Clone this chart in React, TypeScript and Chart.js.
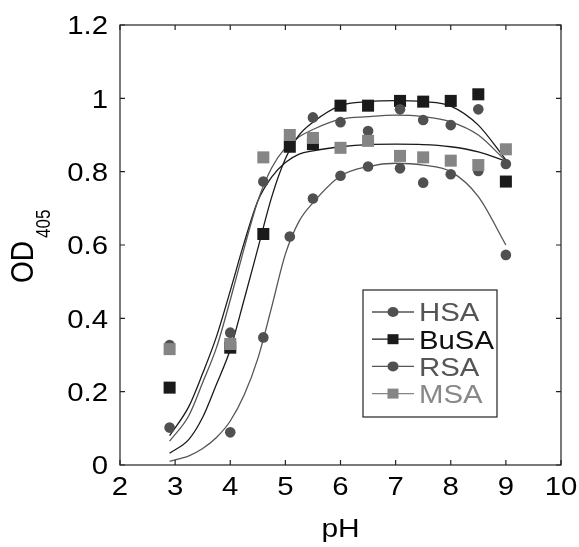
import React, { useEffect, useRef } from 'react';
import { Chart, registerables } from 'chart.js';

Chart.register(...registerables);

// Measured points
const pointPH = [2.9, 4.0, 4.6, 5.08, 5.5, 6.0, 6.5, 7.08, 7.5, 8.0, 8.5, 9.0];
const hsaValues = [0.327, 0.361, 0.773, null, 0.948, 0.935, 0.911, 0.97, 0.941, 0.927, 0.97, 0.821];
const busaValues = [0.211, 0.32, 0.63, 0.868, 0.875, 0.98, 0.98, 0.993, 0.991, 0.993, 1.011, 0.773];
const rsaValues = [0.102, 0.089, 0.348, 0.623, 0.727, 0.789, 0.814, 0.809, 0.77, 0.793, 0.802, 0.573];
const msaValues = [0.316, 0.33, 0.839, 0.9, 0.892, 0.865, 0.884, 0.843, 0.839, 0.83, 0.818, 0.861];

// Fitted curves
const fitPH = [2.9, 3.25, 3.5, 3.75, 4.0, 4.25, 4.5, 4.75, 5.0, 5.25, 5.5, 6.0, 6.5, 7.0, 7.5, 8.0, 8.5, 9.0];
const hsaFit = [0.065, 0.135, 0.225, 0.32, 0.45, 0.59, 0.72, 0.81, 0.865, 0.895, 0.915, 0.943, 0.95, 0.954, 0.95, 0.936, 0.9, 0.829];
const busaFit = [0.032, 0.07, 0.13, 0.22, 0.315, 0.45, 0.59, 0.73, 0.835, 0.9, 0.935, 0.98, 0.991, 0.994, 0.991, 0.979, 0.927, 0.832];
const rsaFit = [0.01, 0.025, 0.045, 0.075, 0.12, 0.19, 0.29, 0.43, 0.575, 0.665, 0.715, 0.788, 0.814, 0.823, 0.818, 0.8, 0.732, 0.6];
const msaFit = [0.08, 0.16, 0.25, 0.35, 0.475, 0.605, 0.72, 0.785, 0.825, 0.848, 0.857, 0.868, 0.874, 0.875, 0.874, 0.868, 0.854, 0.829];

const seriesNames = ['HSA', 'BuSA', 'RSA', 'MSA'];
const xTicks = [2, 3, 4, 5, 6, 7, 8, 9, 10];
const yTicks = [0, 0.2, 0.4, 0.6, 0.8, 1.0, 1.2];
const xTitle = 'pH';
const yTitleMain = 'OD';
const yTitleSub = '405';

const FONT = "Arial, 'Liberation Sans', Helvetica, sans-serif";
const SX = 1.15; // horizontal stretch of text in the reference
const CIRCLE = '#505050';
const BLACK = '#1a1a1a';
const MSA_GRAY = '#858585';
const LINE_GRAY = '#555555';

const toXY = (xs: number[], ys: (number | null)[]) =>
  xs.map((x, i) => ({ x, y: ys[i] })).filter((p) => p.y !== null);

const fmt = (v: number) => String(Number(v.toFixed(1)));

function stretchText(
  ctx: CanvasRenderingContext2D,
  text: string,
  x: number,
  y: number,
  align: CanvasTextAlign,
) {
  ctx.save();
  ctx.translate(x, y);
  ctx.scale(SX, 1);
  ctx.textAlign = align;
  ctx.textBaseline = 'alphabetic';
  ctx.fillText(text, 0, 0);
  ctx.restore();
}

export default function App() {
  const ref = useRef<HTMLCanvasElement>(null);

  useEffect(() => {
    if (!ref.current) return;

    const decor = {
      id: 'decor',
      afterDraw(chart: any) {
        const ctx = chart.ctx as CanvasRenderingContext2D;
        const { left, right, top, bottom } = chart.chartArea;
        const xs = chart.scales.x;
        const ys = chart.scales.y;
        ctx.save();
        // frame
        ctx.strokeStyle = '#222';
        ctx.lineWidth = 1.2;
        ctx.strokeRect(left, top, right - left, bottom - top);
        // inward ticks
        const tl = 5;
        ctx.beginPath();
        xTicks.forEach((v) => {
          const px = xs.getPixelForValue(v);
          ctx.moveTo(px, bottom);
          ctx.lineTo(px, bottom - tl);
          ctx.moveTo(px, top);
          ctx.lineTo(px, top + tl);
        });
        yTicks.forEach((v) => {
          const py = ys.getPixelForValue(v);
          ctx.moveTo(left, py);
          ctx.lineTo(left + tl, py);
          ctx.moveTo(right, py);
          ctx.lineTo(right - tl, py);
        });
        ctx.stroke();

        // tick labels
        ctx.fillStyle = '#000';
        ctx.font = `25.5px ${FONT}`;
        xTicks.forEach((v) => {
          stretchText(ctx, String(v), xs.getPixelForValue(v), bottom + 30, 'center');
        });
        yTicks.forEach((v) => {
          stretchText(ctx, fmt(v), left - 12, ys.getPixelForValue(v) + 9.2, 'right');
        });

        // x title
        ctx.font = `26px ${FONT}`;
        stretchText(ctx, xTitle, (left + right) / 2, 537, 'center');

        // y title with subscript (rotated, stretched along screen x)
        ctx.save();
        ctx.translate(22, (top + bottom) / 2);
        ctx.scale(SX, 1);
        ctx.rotate(-Math.PI / 2);
        ctx.textAlign = 'left';
        ctx.textBaseline = 'alphabetic';
        ctx.font = `28px ${FONT}`;
        ctx.fillText(yTitleMain, -38, 9.6);
        ctx.font = `17px ${FONT}`;
        ctx.fillText(yTitleSub, 7, 24.3);
        ctx.restore();

        // legend
        const bx = 363, by = 290, bw = 134, bh = 127;
        ctx.fillStyle = '#fff';
        ctx.fillRect(bx, by, bw, bh);
        ctx.strokeStyle = '#222';
        ctx.lineWidth = 1.2;
        ctx.strokeRect(bx, by, bw, bh);
        const lineCols = [LINE_GRAY, BLACK, LINE_GRAY, MSA_GRAY];
        const markCols = [CIRCLE, BLACK, CIRCLE, MSA_GRAY];
        const textCols = ['#555', '#111', '#555', '#888'];
        const shapes = ['circle', 'rect', 'circle', 'rect'];
        seriesNames.forEach((name, i) => {
          const cy = 312 + i * 27.2;
          ctx.strokeStyle = lineCols[i];
          ctx.lineWidth = 1.3;
          ctx.beginPath();
          ctx.moveTo(372, cy);
          ctx.lineTo(414, cy);
          ctx.stroke();
          ctx.fillStyle = markCols[i];
          if (shapes[i] === 'circle') {
            ctx.beginPath();
            ctx.ellipse(393, cy, 5.5, 5, 0, 0, Math.PI * 2);
            ctx.fill();
          } else {
            ctx.fillRect(387.5, cy - 5, 11, 10);
          }
          ctx.fillStyle = textCols[i];
          ctx.font = `25.5px ${FONT}`;
          stretchText(ctx, name, 419, cy + 9.3, 'left');
        });
        ctx.restore();
      },
    };

    const fitDs = (data: number[], color: string, order: number) => ({
      type: 'line',
      data: toXY(fitPH, data),
      borderColor: color,
      borderWidth: 1.3,
      pointRadius: 0,
      showLine: true,
      fill: false,
      cubicInterpolationMode: 'monotone',
      order,
    });
    const ptDs = (label: string, data: (number | null)[], color: string, style: string, r: number, order: number) => ({
      type: 'line',
      label,
      data: toXY(pointPH, data),
      showLine: false,
      pointStyle: style,
      pointRadius: r,
      pointBackgroundColor: color,
      pointBorderColor: color,
      pointBorderWidth: 0,
      backgroundColor: color,
      borderColor: color,
      order,
    });

    const chart = new Chart(ref.current, {
      type: 'line',
      data: {
        datasets: [
          ptDs('MSA', msaValues, MSA_GRAY, 'rect', 8.5, 0),
          ptDs('HSA', hsaValues, CIRCLE, 'circle', 5.3, 1),
          ptDs('RSA', rsaValues, CIRCLE, 'circle', 5.3, 2),
          ptDs('BuSA', busaValues, BLACK, 'rect', 8.5, 3),
          fitDs(busaFit, BLACK, 10),
          fitDs(hsaFit, LINE_GRAY, 11),
          fitDs(msaFit, BLACK, 12),
          fitDs(rsaFit, LINE_GRAY, 13),
        ] as any,
      },
      options: {
        responsive: false,
        animation: false,
        layout: { padding: { top: 25, right: 18, left: 0, bottom: 0 } },
        plugins: {
          legend: { display: false },
          tooltip: { enabled: false },
          title: { display: false },
        },
        scales: {
          x: {
            type: 'linear',
            min: 2,
            max: 10,
            afterFit: (s: any) => {
              s.height = 82;
            },
            ticks: { display: false },
            grid: { display: false, drawTicks: false, tickLength: 0 },
            border: { display: false },
          },
          y: {
            type: 'linear',
            min: 0,
            max: 1.2,
            afterFit: (s: any) => {
              s.width = 120;
            },
            ticks: { display: false },
            grid: { display: false, drawTicks: false, tickLength: 0 },
            border: { display: false },
          },
        },
      } as any,
      plugins: [decor],
    });

    return () => chart.destroy();
  }, []);

  return (
    <div style={{ position: 'fixed', left: 0, top: 0, width: 579, height: 547, background: '#fff' }}>
      <canvas ref={ref} width={579} height={547} style={{ display: 'block' }} />
    </div>
  );
}
